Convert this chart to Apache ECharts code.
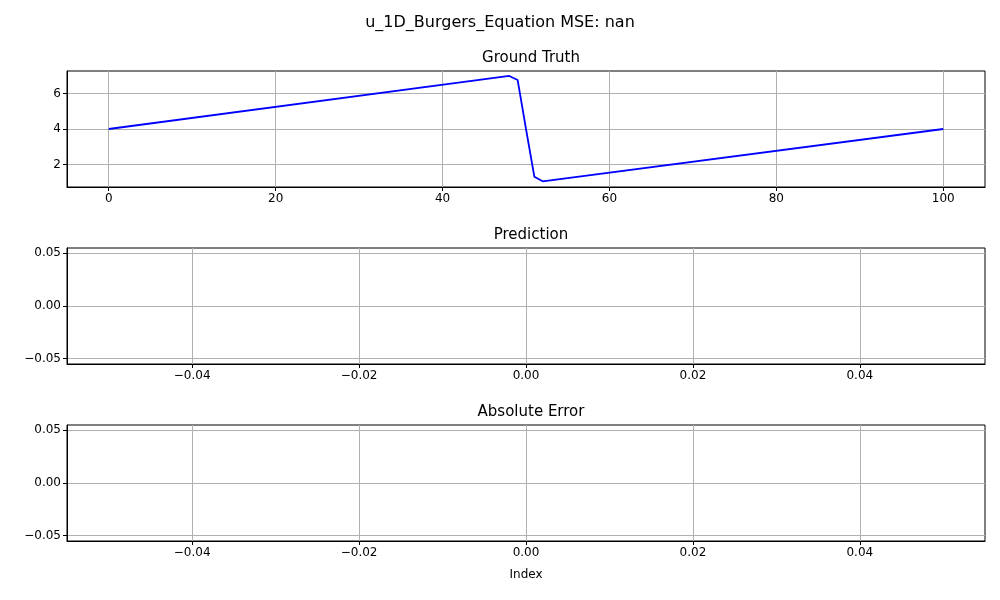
<!DOCTYPE html>
<html>
<head>
  <meta charset="UTF-8">
  <title>u_1D_Burgers_Equation</title>
  <script src="https://cdn.jsdelivr.net/npm/echarts@6/dist/echarts.min.js"></script>
</head>
<body style="margin:0">
  <div id="main" style="width: 1000px; height: 600px"></div>
  <script>
    // ground truth
    const truthX = [0, 48, 49, 50, 51, 52, 100];
    const truthY = [4.0, 6.99, 6.76, 4.0, 1.31, 1.05, 4.0];
    const gtXTicks = [0, 20, 40, 60, 80, 100];
    const gtYTicks = [2, 4, 6];
    const emptyXTicks = [-0.04, -0.02, 0, 0.02, 0.04];
    const emptyYTicks = [-0.05, 0, 0.05];
    const titles = ['Ground Truth', 'Prediction', 'Absolute Error'];

    const tops = [71, 248, 425];
    const h = 116;
    const font = { color: '#000', fontSize: 12, fontFamily: 'DejaVu Sans' };
    const fmt = v => {
      if (Math.abs(v) < 1e-9) return '0.00';
      return (v < 0 ? '\u2212' : '') + Math.abs(v).toFixed(2);
    };

    function xAxis(i, min, max, ticks, f, name) {
      return {
        type: 'value', gridIndex: i, min: min, max: max,
        name: name || '', nameLocation: 'middle', nameGap: 28, nameTextStyle: font,
        axisLine: { onZero: false, lineStyle: { color: '#000' } },
        axisTick: { customValues: ticks, length: 4, lineStyle: { color: '#000' } },
        axisLabel: { customValues: ticks, formatter: f, ...font, margin: 6 },
        splitLine: { show: true, lineStyle: { color: '#b0b0b0' } }
      };
    }
    function yAxis(i, min, max, ticks, f) {
      return {
        type: 'value', gridIndex: i, min: min, max: max,
        axisLine: { show: true, onZero: false, lineStyle: { color: '#000' } },
        axisTick: { show: true, customValues: ticks, length: 4, lineStyle: { color: '#000' } },
        axisLabel: { customValues: ticks, formatter: f, ...font, margin: 6 },
        splitLine: { show: true, lineStyle: { color: '#b0b0b0' } }
      };
    }

    const option = {
      animation: false,
      title: [
        { text: 'u_1D_Burgers_Equation MSE: nan', left: 'center', top: 10,
          textStyle: { fontSize: 16, fontWeight: 'normal', color: '#000', fontFamily: 'DejaVu Sans' } }
      ].concat(titles.map((t, i) => ({
        text: t, left: 526, textAlign: 'center', top: tops[i] - 25,
        textStyle: { fontSize: 15, fontWeight: 'normal', color: '#000', fontFamily: 'DejaVu Sans' }
      }))),
      grid: tops.map(t => ({ left: 67, right: 15, top: t, height: h,
        show: true, borderColor: '#000', borderWidth: 1 })),
      xAxis: [
        xAxis(0, -5, 105, gtXTicks, v => String(v)),
        xAxis(1, -0.055, 0.055, emptyXTicks, fmt),
        xAxis(2, -0.055, 0.055, emptyXTicks, fmt, 'Index')
      ],
      yAxis: [
        yAxis(0, 0.73, 7.27, gtYTicks, v => String(v)),
        yAxis(1, -0.055, 0.055, emptyYTicks, fmt),
        yAxis(2, -0.055, 0.055, emptyYTicks, fmt)
      ],
      series: [
        { type: 'line', xAxisIndex: 0, yAxisIndex: 0, showSymbol: false,
          data: truthX.map((x, i) => [x, truthY[i]]),
          lineStyle: { color: '#0000ff', width: 1.8 } },
        { type: 'line', xAxisIndex: 1, yAxisIndex: 1, data: [] },
        { type: 'line', xAxisIndex: 2, yAxisIndex: 2, data: [] }
      ]
    };
    echarts.init(document.getElementById('main')).setOption(option);
  </script>
</body>
</html>
